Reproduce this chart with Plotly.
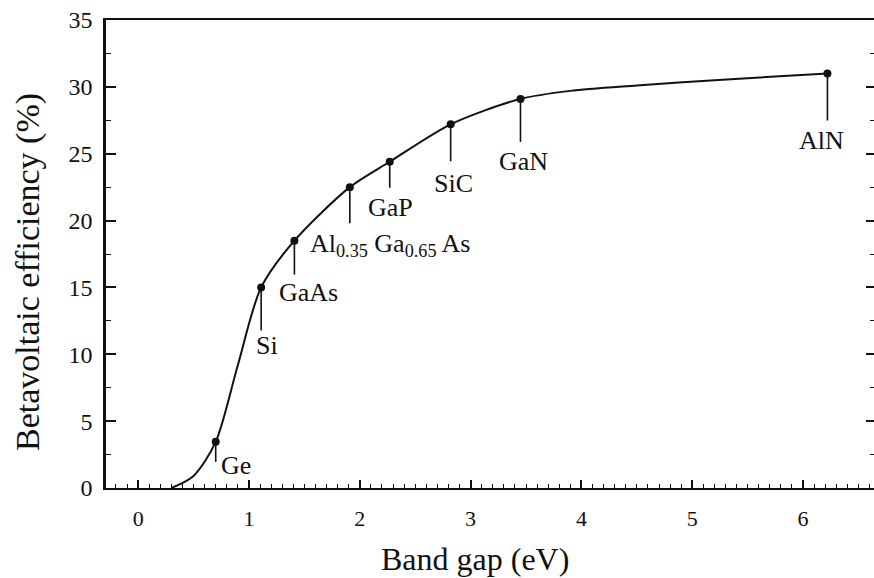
import plotly.graph_objects as go

# Semiconductor band gaps (eV) and betavoltaic efficiency (%)
materials = ["Ge", "Si", "GaAs", "Al<sub>0.35</sub> Ga<sub>0.65</sub> As", "GaP", "SiC", "GaN", "AlN"]
band_gap = [0.70, 1.11, 1.41, 1.91, 2.27, 2.82, 3.45, 6.22]
efficiency = [3.45, 15.0, 18.5, 22.5, 24.4, 27.2, 29.1, 31.0]

# Efficiency curve sampled along the band-gap axis
curve_gap = [0.30, 0.50, 0.70, 0.90, 1.11, 1.41, 1.91, 2.27, 2.82, 3.45, 3.90, 4.50, 5.20, 6.22]
curve_eff = [0.0, 0.9, 3.45, 9.2, 15.0, 18.5, 22.5, 24.4, 27.2, 29.1, 29.7, 30.1, 30.5, 31.0]

x_ticks = [0, 1, 2, 3, 4, 5, 6]
y_ticks = [0, 5, 10, 15, 20, 25, 30, 35]

# Label styling: leader length, text offset (pixels) and anchor per material
leader_len = [20, 43, 34, 36, 26, 37, 43, 47]
label_dx = [3, 6, 14, 40, 1, 3, 3, -6]
label_dy = [-24, -58, -52, -58, -46, -59, -63, -67]
label_anchor = ["left", "center", "center", "center", "center", "center", "center", "center"]

FONT = "Liberation Serif, Times New Roman, serif"
INK = "#111111"

fig = go.Figure()

fig.add_trace(go.Scatter(
    x=curve_gap, y=curve_eff, mode="lines",
    line=dict(color=INK, width=2, shape="spline", smoothing=0.8),
    hoverinfo="skip", showlegend=False,
))

fig.add_trace(go.Scatter(
    x=band_gap, y=efficiency, mode="markers",
    marker=dict(color=INK, size=8),
    showlegend=False,
))

# Invisible trace to activate the right-hand tick axis
fig.add_trace(go.Scatter(x=[band_gap[0]], y=[efficiency[0]], yaxis="y2",
                         mode="markers", marker=dict(opacity=0), showlegend=False,
                         hoverinfo="skip"))

for i, name in enumerate(materials):
    fig.add_shape(
        type="line", xref="x", yref="y",
        x0=band_gap[i], x1=band_gap[i],
        ysizemode="pixel", yanchor=efficiency[i], y0=0, y1=-leader_len[i],
        line=dict(color=INK, width=1.6),
    )
    fig.add_annotation(
        x=band_gap[i], y=efficiency[i], text=name, showarrow=False,
        xanchor=label_anchor[i], yanchor="middle",
        xshift=label_dx[i], yshift=label_dy[i],
        font=dict(family=FONT, size=26, color=INK),
    )

fig.add_annotation(
    x=475, y=559, xref="paper", yref="paper", text="Band gap (eV)",
    showarrow=False, xanchor="center", yanchor="middle",
    font=dict(family=FONT, size=32, color=INK),
)
fig.add_annotation(
    x=28, y=272, xref="paper", yref="paper", text="Betavoltaic efficiency (%)",
    showarrow=False, xanchor="center", yanchor="middle", textangle=-90,
    font=dict(family=FONT, size=34, color=INK),
)

W, H = 874, 578
ML, MR, MT, MB = 106, 0, 20, 90

# convert the two title annotations from pixel to paper coordinates
for ann in fig.layout.annotations[-2:]:
    ann.x = (ann.x - ML) / (W - ML - MR)
    ann.y = 1 - (ann.y - MT) / (H - MT - MB)

fig.update_layout(
    width=W, height=H,
    margin=dict(l=ML, r=MR, t=MT, b=MB, pad=0),
    paper_bgcolor="white", plot_bgcolor="white",
    font=dict(family=FONT, color=INK),
    xaxis=dict(
        range=[-0.29, 6.64], tickvals=x_ticks, ticktext=[str(v) for v in x_ticks],
        ticks="inside", ticklen=8, tickwidth=1.5, tickcolor=INK,
        minor=dict(dtick=0.1, tick0=0, ticks="inside", ticklen=4, tickwidth=1.2, tickcolor=INK),
        showline=True, linecolor=INK, linewidth=2, mirror=True,
        showgrid=False, zeroline=False,
        tickfont=dict(family=FONT, size=22, color=INK), ticklabelstandoff=10,
    ),
    yaxis=dict(
        range=[0, 35], tickvals=y_ticks, ticktext=[str(v) for v in y_ticks],
        ticks="inside", ticklen=10, tickwidth=1.5, tickcolor=INK,
        minor=dict(dtick=2.5, tick0=0, ticks="inside", ticklen=5, tickwidth=1.2, tickcolor=INK),
        showline=True, linecolor=INK, linewidth=2.5,
        showgrid=False, zeroline=False,
        tickfont=dict(family=FONT, size=24, color=INK), ticklabelstandoff=6,
    ),
    yaxis2=dict(
        range=[0, 35], overlaying="y", side="right", anchor="x",
        tickvals=y_ticks, showticklabels=False,
        ticks="inside", ticklen=8, tickwidth=1.5, tickcolor=INK,
        minor=dict(dtick=2.5, tick0=0, ticks="inside", ticklen=4, tickwidth=1.2, tickcolor=INK),
        showline=False, showgrid=False, zeroline=False,
    ),
)

fig.write_html("out.html")
